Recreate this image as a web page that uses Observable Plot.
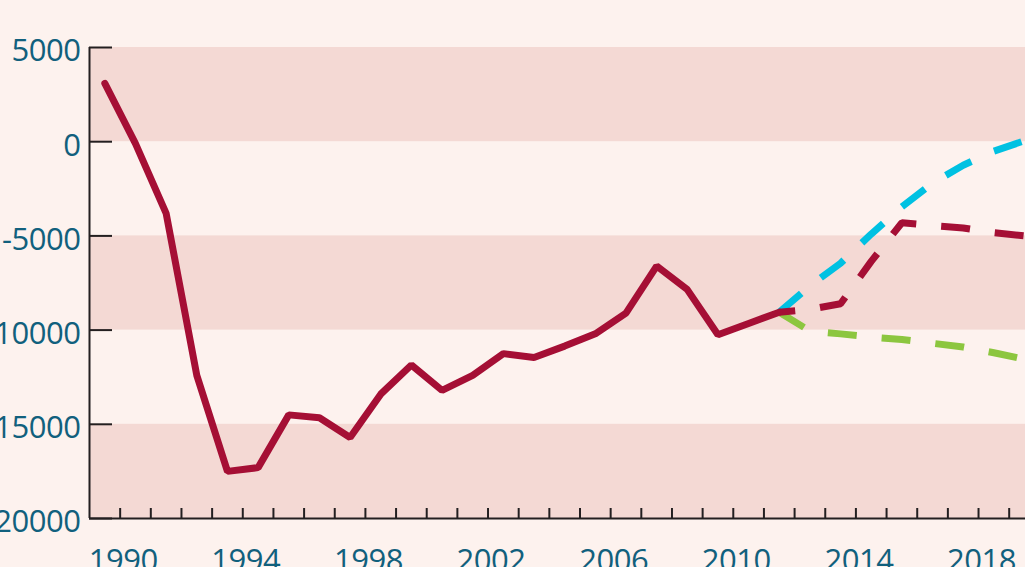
<!DOCTYPE html>
<html>
<head>
<meta charset="utf-8">
<script src="https://cdn.jsdelivr.net/npm/d3@7"></script>
<script src="https://cdn.jsdelivr.net/npm/@observablehq/plot@0.6"></script>
<style>
  html, body { margin: 0; padding: 0; background: #fdf2ee; overflow: hidden; width: 1025px; height: 567px; }
  #chart { position: absolute; left: 0; top: 0; }
  #chart svg text { letter-spacing: -0.5px; }
</style>
</head>
<body>
<div id="chart"></div>
<script>
// Historical series
const histYears  = [1989, 1990, 1991, 1992, 1993, 1994, 1995, 1996, 1997, 1998, 1999, 2000,
                    2001, 2002, 2003, 2004, 2005, 2006, 2007, 2008, 2009, 2010, 2011];
const histValues = [3100, -100, -3800, -12400, -17500, -17300, -14500, -14650, -15700, -13400, -11850, -13200,
                    -12400, -11250, -11450, -10850, -10200, -9100, -6600, -7850, -10250, -9650, -9050];

// Projection scenarios
const projYears = [2011, 2012, 2013, 2014, 2015, 2016, 2017, 2018, 2019];
const projBase  = [-9050, -8900, -8600, -6350, -4300, -4450, -4580, -4830, -5000];
const projHigh  = [-9050, -7650, -6450, -4900, -3450, -2200, -1250, -500, 50];
const projLow   = [-9050, -10050, -10200, -10370, -10500, -10700, -10900, -11200, -11550];

// Axes
const yTickValues = [5000, 0, -5000, -10000, -15000, -20000];
const xTickYears  = d3.range(1990, 2021);
const xLabelYears = [1990, 1994, 1998, 2002, 2006, 2010, 2014, 2018];
const xDomain = [1989, 2021];
const yDomain = [-20000, 5000];
const bandRanges = [[5000, 0], [-5000, -10000], [-15000, -20000]];

const toRows = (years, values) => years.map((year, i) => ({year, value: values[i]}));
const hist = toRows(histYears, histValues);
const base = toRows(projYears, projBase);
const high = toRows(projYears, projHigh);
const low  = toRows(projYears, projLow);

const crimson = "#a50f35";
const cyan = "#00c1e2";
const green = "#8cc63f";
const band = "#f4d9d4";
const axisColor = "#231f20";
const labelColor = "#11607d";
const font = "'Open Sans', 'Noto Sans', sans-serif";
const xPos = d => d.year + 0.5;

const chart = Plot.plot({
  width: 1080,
  height: 600,
  marginLeft: 89,
  marginRight: 10,
  marginTop: 47,
  marginBottom: 82,
  style: {background: "transparent", maxWidth: "none", overflow: "hidden", fontFamily: font},
  x: {domain: xDomain, axis: null},
  y: {domain: yDomain, axis: null},
  marks: [
    Plot.rect(bandRanges, {x1: () => xDomain[0], x2: () => xDomain[1], y1: d => d[0], y2: d => d[1], fill: band}),
    Plot.line(high, {x: xPos, y: "value", stroke: cyan, strokeWidth: 7, strokeDasharray: "29,25", strokeLinecap: "butt"}),
    Plot.line(low, {x: xPos, y: "value", stroke: green, strokeWidth: 7, strokeDasharray: "29,25", strokeLinecap: "butt"}),
    Plot.line(base, {x: xPos, y: "value", stroke: crimson, strokeWidth: 7, strokeDasharray: "29,25", strokeDashoffset: 13, strokeLinecap: "butt", strokeLinejoin: "miter"}),
    Plot.line(hist, {x: xPos, y: "value", stroke: crimson, strokeWidth: 7, strokeLinecap: "round", strokeLinejoin: "miter"}),
    Plot.ruleX([xDomain[0]], {y1: yDomain[0], y2: yDomain[1], stroke: axisColor, strokeWidth: 2}),
    Plot.ruleY([yDomain[0]], {stroke: axisColor, strokeWidth: 2}),
    Plot.axisY(yTickValues, {tickSize: -23, fill: "none", stroke: axisColor, strokeWidth: 2, label: null}),
    Plot.axisY(yTickValues, {tickSize: 0, tickPadding: 9, fill: labelColor, fontSize: 31, fontFamily: font, dy: 4, tickFormat: d => String(d), label: null}),
    Plot.axisX(xTickYears, {tickSize: -10, fill: "none", stroke: axisColor, strokeWidth: 2, label: null}),
    Plot.axisX(xLabelYears, {tickSize: 0, tickPadding: 30, fill: labelColor, fontSize: 31, fontFamily: font, dx: 3, tickFormat: d => String(d), label: null})
  ]
});
document.getElementById("chart").append(chart);
</script>
</body>
</html>
